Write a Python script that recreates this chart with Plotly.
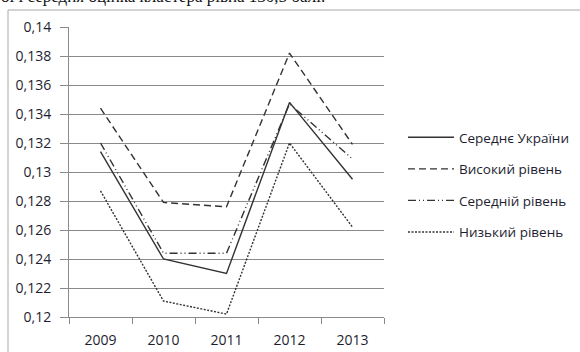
import plotly.graph_objects as go

# Years and cluster averages
years = ["2009", "2010", "2011", "2012", "2013"]
ukraine_avg = [0.1314, 0.1240, 0.1230, 0.1348, 0.1295]
high_level = [0.1344, 0.1279, 0.1276, 0.1382, 0.1319]
mid_level = [0.1320, 0.1244, 0.1244, 0.1347, 0.1309]
low_level = [0.1287, 0.1211, 0.1202, 0.1320, 0.1262]

y_ticks = [0.12, 0.122, 0.124, 0.126, 0.128, 0.13, 0.132, 0.134, 0.136, 0.138, 0.14]
y_tick_text = ["0,12", "0,122", "0,124", "0,126", "0,128", "0,13", "0,132", "0,134", "0,136", "0,138", "0,14"]

W, H = 580, 352
L, R, T, B = 69, 196, 27, 35
pw, ph = W - L - R, H - T - B

line_col = "#333333"
text_col = "#1e1e30"
font = "Open Sans"

series = [
    ("Середнє України", ukraine_avg, "solid"),
    ("Високий рівень", high_level, "7px,4px"),
    ("Середній рівень", mid_level, "8px,3px,1px,3px,1px,3px"),
    ("Низький рівень", low_level, "2px,1.5px"),
]

fig = go.Figure()
for i, (name, vals, dash) in enumerate(series):
    fig.add_trace(go.Scatter(
        x=years, y=vals, name=name, mode="lines", legendgroup=f"g{i}",
        line=dict(color=line_col, width=1.4, dash=dash),
    ))


def px_x(p):
    return (p - L) / pw


def px_y(p):
    return (H - B - p) / ph


# Outer chart border
fig.add_shape(type="rect", xref="paper", yref="paper",
              x0=px_x(8), x1=px_x(W + 20), y0=px_y(H + 20), y1=px_y(10),
              line=dict(color="#a8a8a8", width=1), fillcolor="rgba(0,0,0,0)", layer="below")

# Trailing sentence of the surrounding text
fig.add_annotation(xref="paper", yref="paper", x=px_x(327), y=px_y(8),
                   xanchor="right", yanchor="bottom", showarrow=False,
                   text="ої і середня оцінка кластера рівна 130,5 балі.",
                   font=dict(family="Liberation Serif", size=17, color="#111111"))

fig.update_layout(
    width=W, height=H,
    margin=dict(l=L, r=R, t=T, b=B, autoexpand=False),
    paper_bgcolor="white", plot_bgcolor="white",
    separators=", ",
    font=dict(family=font, size=14, color=text_col),
    showlegend=True,
    legend=dict(xref="container", yref="container",
                x=403 / W, y=1 - 122 / H, xanchor="left", yanchor="top",
                bgcolor="rgba(0,0,0,0)", font=dict(size=13.5, color=text_col),
                itemwidth=46, tracegroupgap=11),
    xaxis=dict(type="category", tickson="boundaries", ticks="outside", ticklen=6,
               tickcolor="#8a8a8a", showline=True, linecolor="#8a8a8a", linewidth=1,
               showgrid=False, zeroline=False, range=[-0.5, 4.5],
               ticklabelstandoff=10, automargin=False),
    yaxis=dict(range=[0.12, 0.14], tickvals=y_ticks, ticktext=y_tick_text,
               ticks="outside", ticklen=8, tickcolor="#8a8a8a",
               showline=True, linecolor="#8a8a8a", linewidth=1,
               showgrid=True, gridcolor="#8a8a8a", gridwidth=1, zeroline=False,
               ticklabelstandoff=6, automargin=False),
)

fig.write_html("out.html")
